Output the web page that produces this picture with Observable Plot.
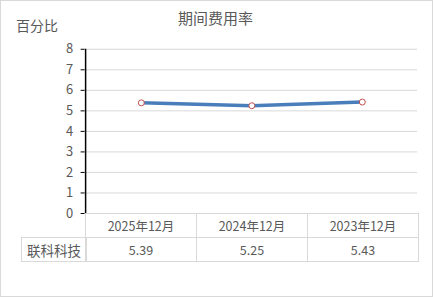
<!DOCTYPE html>
<html><head><meta charset="utf-8">
<script src="https://cdn.jsdelivr.net/npm/d3@7"></script>
<script src="https://cdn.jsdelivr.net/npm/@observablehq/plot@0.6"></script>
<style>
body{margin:0;background:#fff;font-family:"Noto Sans CJK SC","Noto Sans",sans-serif;}
#wrap{position:relative;width:433px;height:297px;box-sizing:border-box;border:1px solid #d9d9d9;overflow:hidden;}
#wrap svg{position:absolute;left:-1px;top:-1px;}
.t{position:absolute;font-size:15px;color:#595959;white-space:nowrap;}
.cell{position:absolute;box-sizing:border-box;border:1px solid #d9d9d9;font-size:12.5px;color:#595959;display:flex;align-items:center;justify-content:center;}
</style></head>
<body><div id="wrap"></div>
<script>
const categories = ["2025年12月","2024年12月","2023年12月"];
const seriesName = "联科科技";
const values = [5.39, 5.25, 5.43];
const yTicks = [0,1,2,3,4,5,6,7,8];
const title = "期间费用率";
const yLabel = "百分比";

const data = categories.map((c,i)=>({cat:c, v:values[i]}));
const W=433,H=297, mL=85, mR=14, mT=49, mB=83;
const chart = Plot.plot({
  width:W, height:H, marginLeft:mL, marginRight:mR, marginTop:mT, marginBottom:mB,
  style:{fontFamily:'"Noto Sans CJK SC",sans-serif', fontSize:"13px", color:"#595959", background:"transparent"},
  x:{type:"band", domain:categories, padding:0, axis:null},
  y:{domain:[0,8], ticks:yTicks, label:null},
  marks:[
    Plot.gridY(yTicks.slice(1), {stroke:"#d9d9d9", strokeOpacity:1}),
    Plot.axisY({ticks:yTicks, tickSize:4, tickPadding:8, label:null, stroke:"#000", color:"#595959"}),
    Plot.ruleX([categories[0]],{x:d=>d, dx:-56, y1:0, y2:8, stroke:"#000", strokeWidth:1.5}),
    Plot.line(data, {x:"cat", y:"v", stroke:"#4a7ebb", strokeWidth:3.5, strokeLinecap:"round"}),
    Plot.dot(data, {x:"cat", y:"v", r:3, fill:"#fff", stroke:"#c0504d", strokeWidth:1})
  ]
});
document.getElementById("wrap").appendChild(chart);

const xs = chart.scale("x"), ys = chart.scale("y");
const wrap = document.getElementById("wrap");
function addText(txt, left, top, size){const d=document.createElement("div");d.className="t";d.textContent=txt;d.style.left=left+"px";d.style.top=top+"px";if(size)d.style.fontSize=size+"px";wrap.appendChild(d);return d;}
const tt = addText(title, 0, 6, 15);
tt.style.width="429px"; tt.style.textAlign="center";
addText(yLabel, 15, 14, 14);

// data table
const bw = xs.bandwidth;
const y0 = ys.apply(0) - 1;
const rowH = 24;
categories.forEach((c,i)=>{
  const x = xs.apply(c) - 1;
  const h=document.createElement("div");h.className="cell";h.textContent=c;
  Object.assign(h.style,{left:(x-1)+"px",top:(y0-1)+"px",width:(bw+1)+"px",height:(rowH+1)+"px"});wrap.appendChild(h);
  const v=document.createElement("div");v.className="cell";v.textContent=values[i].toFixed(2);
  Object.assign(v.style,{left:(x-1)+"px",top:(y0-1+rowH)+"px",width:(bw+1)+"px",height:(rowH+1)+"px"});wrap.appendChild(v);
});
const lab=document.createElement("div");lab.className="cell";lab.textContent=seriesName;
Object.assign(lab.style,{left:"20px",top:(y0-1+rowH)+"px",width:(xs.apply(categories[0])-1-20+1)+"px",height:(rowH+1)+"px",fontSize:"13.5px"});
wrap.appendChild(lab);
</script></body></html>
